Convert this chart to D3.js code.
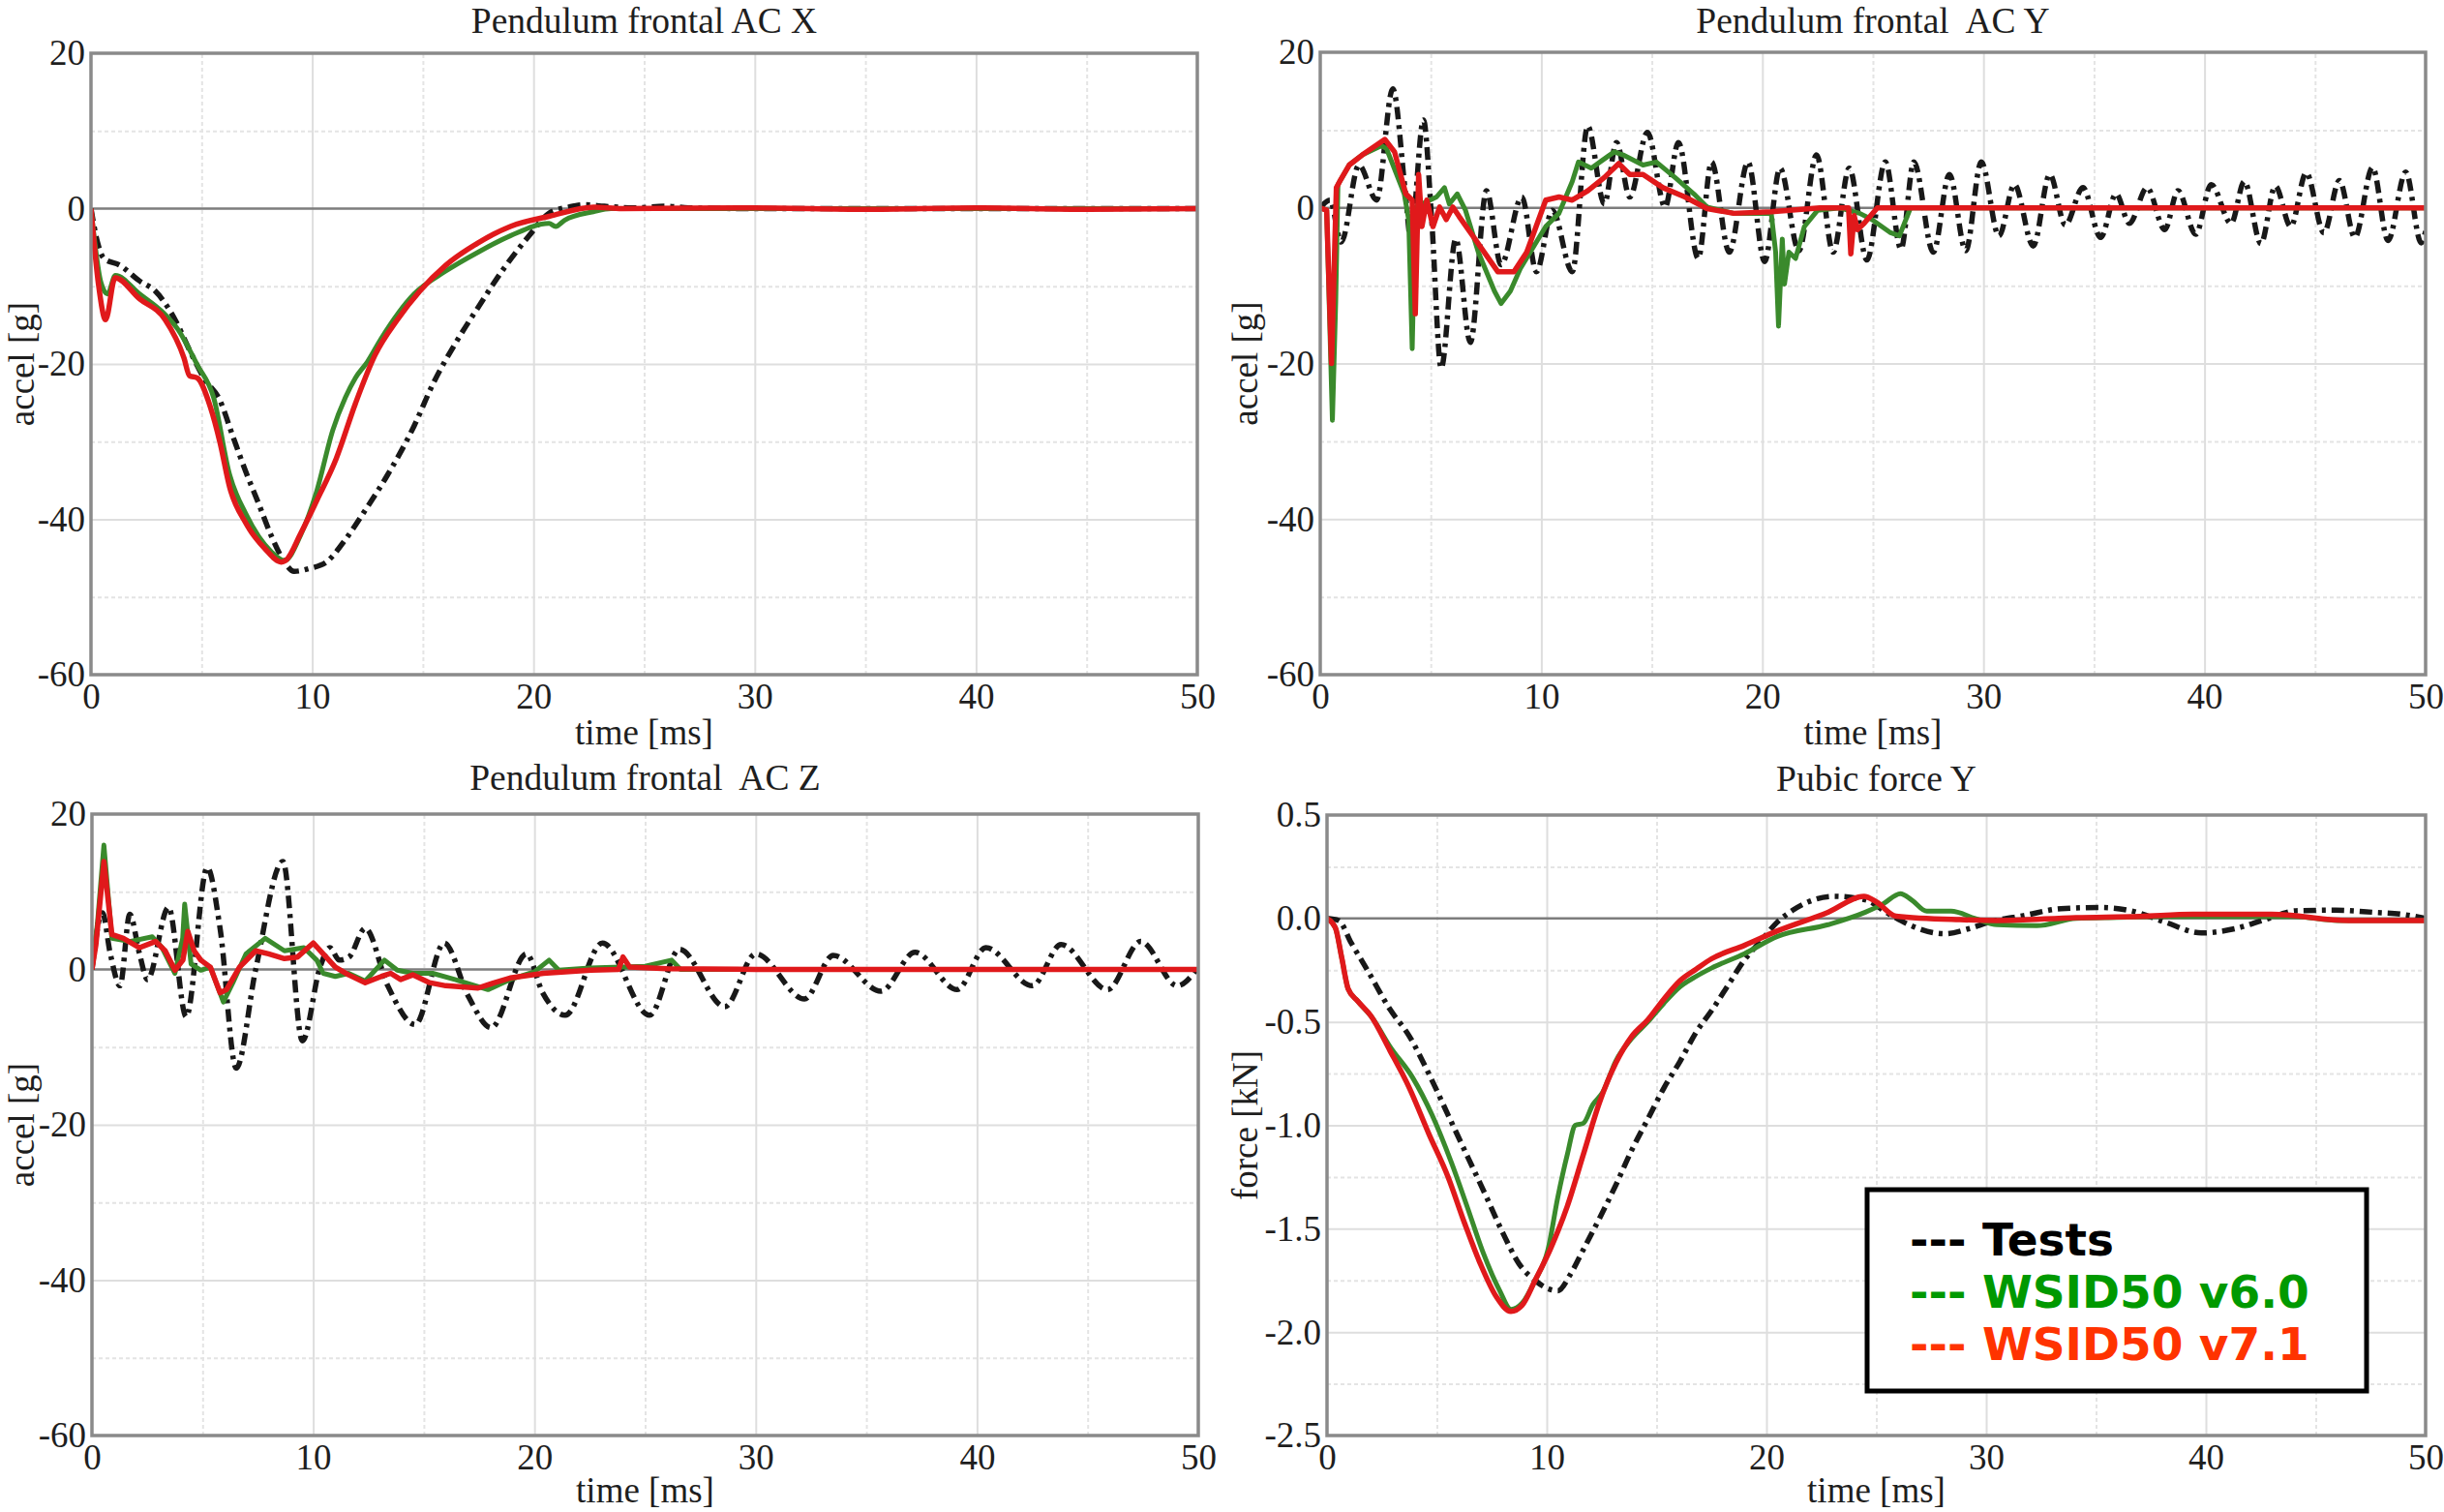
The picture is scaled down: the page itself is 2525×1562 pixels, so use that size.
<!DOCTYPE html>
<html><head><meta charset="utf-8">
<script src="https://cdn.jsdelivr.net/npm/d3@7"></script>
<style>html,body{margin:0;padding:0;background:#fff;}svg{display:block;}</style>
</head><body><svg id="c" width="2525" height="1562"></svg>
<script>
// ---------- tick labels / categories ----------
const xTicks = [0, 10, 20, 30, 40, 50];
const xMinor = [5, 15, 25, 35, 45];
const accelTicks = [20, 0, -20, -40, -60];
const accelMinor = [10, -10, -30, -50];
const forceTicks = [0.5, 0.0, -0.5, -1.0, -1.5, -2.0, -2.5];
const forceMinor = [0.25, -0.25, -0.75, -1.25, -1.75, -2.25];
const titles = ["Pendulum frontal AC X", "Pendulum frontal  AC Y", "Pendulum frontal  AC Z", "Pubic force Y"];
const yLabels = ["accel [g]", "accel [g]", "accel [g]", "force [kN]"];
const xLabel = "time [ms]";
const legendLabels = ["--- Tests", "--- WSID50 v6.0", "--- WSID50 v7.1"];

// ---------- series: [time ms, value] ----------
const acxTest = [[0,0],[0.3,-4.4],[0.58,-6.4],[1.31,-7.3],[2.19,-9.3],[2.9,-10.6],[3.8,-14.3],[4.5,-18.5],[5.1,-21.8],[5.83,-24.7],[6.41,-29.3],[7.0,-33.9],[7.58,-38],[8.16,-42.2],[8.75,-45.5],[9.18,-46.7],[9.91,-46.3],[10.64,-45.5],[11.5,-42.6],[12.4,-38.8],[13.4,-34.3],[14.6,-28],[15.45,-22.6],[16.5,-17.2],[17.5,-12.7],[18.66,-7.7],[19.8,-3.5],[20.7,-0.6],[21.6,0.2],[22.3,0.5],[23.2,0.3],[24.5,0.1],[26,0.3],[27,0.1],[30,0],[40,0],[50,0]];
const acxV60 = [[0,0],[0.45,-9.5],[0.75,-11],[1.1,-8.6],[2.2,-11],[3.3,-13.5],[3.94,-15.6],[4.8,-20.1],[5.54,-24.3],[6.27,-34.3],[7.0,-39.3],[8.16,-44.2],[8.75,-45.3],[9.48,-42],[10.2,-36.4],[10.93,-28.5],[11.5,-24.3],[11.95,-21.8],[12.5,-19.7],[13.1,-16.8],[14.6,-11],[16.0,-8.1],[17.5,-5.6],[18.95,-3.5],[20.7,-1.9],[21.0,-2.3],[21.4,-1.5],[22.7,-0.4],[23.5,0],[30,0],[40,0],[50,0]];
const acxV71 = [[0,0],[0.35,-10],[0.66,-14.3],[1.09,-8.9],[2.19,-11.6],[3.35,-14.3],[4.2,-19.2],[4.45,-21.5],[4.8,-21.8],[5.39,-25.5],[5.83,-30.1],[6.27,-35.9],[7.0,-40.5],[7.87,-43.8],[8.6,-45.5],[8.8,-45.3],[9.48,-41.8],[10.2,-37.6],[11.08,-32.2],[11.95,-25.1],[12.83,-18.9],[13.85,-14.3],[14.87,-10.6],[16.03,-7.3],[17.5,-4.4],[18.95,-2.3],[20.7,-1.0],[22.74,0.2],[24,0],[30,0.1],[35,-0.1],[40,0.1],[45,-0.1],[50,0]];

const acyTest = [[0,0],[0.44,1],[0.95,-4.4],[1.75,5.5],[2.55,1],[3.28,15.3],[3.85,2],[4.09,-4],[4.67,11.3],[5.04,-1.5],[5.47,-20.6],[6.13,-4],[6.79,-17.3],[7.52,2.2],[8.18,-7.3],[9.12,1.4],[9.78,-8.2],[10.5,-0.3],[11.4,-8.2],[12.1,10.5],[12.85,0.5],[13.4,8.4],[14.0,1.4],[14.8,9.7],[15.6,0.1],[16.2,8.4],[17.1,-6.5],[17.7,5.9],[18.5,-5.7],[19.35,5.9],[20.1,-6.9],[20.8,5.1],[21.65,-5.5],[22.45,6.8],[23.2,-5.7],[23.93,5.1],[24.73,-6.7],[25.56,5.9],[26.27,-5.3],[26.85,5.9],[27.73,-5.7],[28.46,4.3],[29.2,-5.5],[29.9,5.9],[30.7,-3.6],[31.4,3.0],[32.25,-4.9],[33.0,4.3],[33.7,-2.2],[34.5,2.6],[35.3,-3.8],[36.0,1.8],[36.6,-2],[37.4,2.6],[38.2,-2.8],[38.8,2.2],[39.6,-3.4],[40.3,3.0],[41.2,-2],[41.8,3.4],[42.55,-4.6],[43.2,2.8],[43.9,-2.4],[44.6,4.5],[45.4,-3.2],[46.1,3.5],[46.8,-3.8],[47.6,5.2],[48.3,-4.2],[49.1,4.6],[49.8,-4.5],[50,-3]];
const acyV60 = [[0,0],[0.29,-0.3],[0.55,-27.3],[0.7,-12],[0.8,3],[1.31,5.5],[1.9,6.8],[2.77,8.0],[3.0,7.6],[3.8,1.8],[4.0,-1.5],[4.16,-18.1],[4.3,0.1],[4.96,1],[5.26,1.4],[5.62,2.6],[5.84,0.5],[6.2,1.8],[6.57,-0.3],[7.15,-5.7],[7.88,-10.7],[8.18,-12.3],[8.6,-10.7],[9.05,-7.8],[10.2,-2.4],[10.8,-0.7],[11.4,3.4],[11.68,5.9],[12.26,5.1],[12.85,6.3],[13.3,7.2],[13.7,6.8],[14.6,5.5],[15.2,5.9],[16.05,3.9],[16.9,1.8],[17.5,0.1],[18.7,-0.7],[20.4,-0.7],[20.6,-5.7],[20.73,-15.2],[20.9,-4],[21.0,-9.8],[21.2,-5.7],[21.5,-6.5],[21.9,-2.4],[22.5,-0.3],[23.5,0],[24.4,-0.7],[24.95,-1.5],[25.8,-3.2],[26.2,-3.6],[26.7,0],[30,0],[50,0]];
const acyV71 = [[0,0],[0.29,-0.3],[0.51,-20],[0.73,2.6],[0.88,3.4],[1.31,5.5],[1.9,6.8],[2.92,8.8],[3.36,7.2],[3.87,1.8],[4.16,1],[4.3,-13.6],[4.45,4.3],[4.6,-2.4],[4.82,1],[5.1,-2.4],[5.4,0.1],[5.7,-1.5],[6.0,0.1],[6.28,-1.1],[7.0,-4],[8.03,-8.2],[8.76,-8.2],[9.34,-5.7],[10.2,1],[10.8,1.4],[11.4,1],[12.1,2.2],[12.85,3.9],[13.5,5.7],[14.0,4.3],[14.6,4.3],[15.5,2.6],[16.5,1.4],[17.5,-0.1],[18.7,-0.7],[20.4,-0.5],[22.6,0],[23.9,0],[24.0,-5.9],[24.15,-1],[24.3,-2.8],[24.6,-2],[25.2,0],[30,0],[50,0]];

const aczTest = [[0,0],[0.47,7.3],[0.83,2.0],[1.27,-2.1],[1.71,7.1],[2.15,2],[2.51,-1.3],[3.46,8.0],[4.26,-6.1],[5.21,13.1],[5.79,5.3],[6.52,-12.7],[7.4,0],[8.63,13.9],[9.51,-9.2],[10.31,0.3],[10.75,2.8],[11.18,1.2],[11.62,1.6],[12.35,5.3],[13.37,-2.1],[14.61,-7.1],[15.92,3.4],[17.0,-3.4],[18.04,-7.5],[19.64,2.0],[20.37,-3],[21.39,-5.9],[23.07,3.4],[25.2,-5.9],[26.55,2.6],[28.6,-4.8],[30.0,2.0],[32.2,-3.8],[33.5,1.8],[35.66,-2.8],[37.2,2.2],[39.1,-2.6],[40.4,2.8],[42.5,-2.1],[43.8,3.2],[45.9,-2.6],[47.4,3.6],[49.05,-2.1],[50,0.3]];
const aczV60 = [[0,0],[0.25,6],[0.54,16],[0.9,4],[1.71,3.6],[2.73,4.2],[3.17,2.8],[3.75,-0.5],[4.1,4],[4.19,8.4],[4.48,0.7],[4.92,-0.1],[5.35,0.3],[5.94,-4.2],[6.37,-1.7],[6.96,2],[7.83,4],[8.7,2.4],[9.58,2.8],[10.16,1.2],[10.45,-0.5],[11.0,-0.9],[11.6,-0.5],[12.35,-1.5],[13.22,1.2],[13.8,-0.1],[14.5,-0.5],[15.4,-0.5],[16.4,-1.3],[17.9,-2.6],[18.9,-1.3],[20.0,-0.3],[20.66,1.2],[21.1,-0.1],[22.5,0.2],[25,0.4],[26.2,1.2],[26.6,0],[30,0],[50,0]];
const aczV71 = [[0,0],[0.18,3.2],[0.54,13.9],[0.9,4.5],[1.42,4],[2.15,2.8],[2.87,3.6],[3.31,2.4],[3.75,-0.1],[4.11,1.2],[4.33,4.9],[4.62,2.4],[4.92,1.2],[5.35,0.3],[5.79,-3],[6.08,-2.6],[6.67,0.3],[7.4,2.4],[7.98,2],[8.7,1.4],[9.29,1.6],[10.0,3.4],[10.45,2],[11.0,0.3],[11.6,-0.7],[12.35,-1.7],[13.08,-0.9],[13.5,-0.5],[13.95,-1.3],[14.5,-0.7],[15.26,-1.7],[15.99,-2.1],[17.45,-2.4],[18.2,-1.7],[18.9,-1.1],[20.4,-0.5],[22.55,-0.1],[23.8,0],[24.0,1.6],[24.3,0.3],[26,0.1],[30,0],[50,0]];

const pubTest = [[0,0],[0.53,-0.01],[1.11,-0.12],[1.84,-0.25],[2.87,-0.44],[3.75,-0.57],[4.63,-0.75],[5.51,-0.95],[6.39,-1.15],[7.27,-1.35],[8.0,-1.52],[8.74,-1.67],[9.47,-1.75],[10.06,-1.79],[10.5,-1.80],[11.08,-1.72],[11.67,-1.60],[12.4,-1.45],[13.14,-1.29],[13.87,-1.12],[14.6,-0.97],[15.33,-0.82],[16.07,-0.69],[16.8,-0.55],[17.54,-0.44],[18.27,-0.32],[19.0,-0.20],[19.74,-0.11],[20.47,-0.02],[21.2,0.04],[21.9,0.08],[23.08,0.107],[24.5,0.09],[25.6,0.02],[26.7,-0.04],[28.1,-0.074],[29.2,-0.05],[30.2,-0.016],[31.7,0.014],[33.4,0.047],[35.2,0.053],[36.6,0.037],[38.1,-0.016],[39.8,-0.07],[41.3,-0.05],[42.7,-0.005],[44.1,0.037],[45.9,0.04],[47.6,0.03],[49,0.019],[50,0]];
const pubV60 = [[0,0],[0.38,-0.045],[0.67,-0.19],[0.96,-0.34],[1.4,-0.40],[2.06,-0.48],[2.87,-0.62],[3.9,-0.77],[4.78,-0.95],[5.66,-1.18],[6.4,-1.40],[7.12,-1.62],[7.86,-1.80],[8.37,-1.89],[8.88,-1.86],[9.47,-1.75],[10.06,-1.60],[10.5,-1.35],[10.94,-1.14],[11.3,-1.00],[11.67,-0.99],[12.1,-0.90],[12.55,-0.84],[13.14,-0.69],[13.87,-0.58],[14.6,-0.50],[15.33,-0.41],[16.07,-0.33],[16.8,-0.28],[17.5,-0.24],[19.0,-0.17],[20.5,-0.087],[22.8,-0.03],[24.5,0.03],[25.3,0.07],[26.1,0.12],[26.6,0.09],[27.3,0.035],[28.4,0.035],[29.5,0.0],[30.5,-0.03],[32.3,-0.035],[34.1,0.0],[36,0.005],[38,0.01],[40,0.01],[42,0.01],[44,0.01],[46,-0.01],[48,-0.01],[50,-0.01]];
const pubV71 = [[0,0],[0.38,-0.045],[0.67,-0.19],[0.96,-0.34],[1.4,-0.40],[1.99,-0.47],[2.87,-0.64],[3.75,-0.82],[4.63,-1.04],[5.51,-1.25],[6.25,-1.47],[6.98,-1.67],[7.71,-1.83],[8.37,-1.90],[8.88,-1.87],[9.47,-1.75],[10.2,-1.59],[10.94,-1.39],[11.67,-1.14],[12.4,-0.89],[13.14,-0.70],[13.87,-0.57],[14.6,-0.49],[15.33,-0.39],[16.07,-0.30],[16.8,-0.245],[17.5,-0.195],[19.0,-0.13],[20.5,-0.06],[22.8,0.03],[24.44,0.107],[25.0,0.08],[25.9,0.011],[28.8,-0.006],[30.5,-0.01],[34.1,0.004],[37,0.01],[39.4,0.02],[43,0.02],[46.5,-0.01],[50,-0.01]];

// ---------- drawing ----------
const COL = {test:"#181818", v60:"#3a8a2c", v71:"#e0191b"};
const legendColors = ["#000000", "#009900", "#ff3300"];
const svg = d3.select("#c");
const SERIF = "'Liberation Serif','Times New Roman',serif";

const panels = [
  {x0:94,  x1:1237, y0:55,  y1:697,  dom:[-60,20],  ticks:accelTicks, minor:accelMinor, fmt:d=>String(d), data:[acxTest,acxV60,acxV71], titleY:34,  xlabY:769,  ylabX:35,   smooth:true},
  {x0:1364,x1:2506, y0:54,  y1:697,  dom:[-60,20],  ticks:accelTicks, minor:accelMinor, fmt:d=>String(d), data:[acyTest,acyV60,acyV71], titleY:34,  xlabY:769,  ylabX:1299, smooth:false},
  {x0:95,  x1:1238, y0:841, y1:1483, dom:[-60,20],  ticks:accelTicks, minor:accelMinor, fmt:d=>String(d), data:[aczTest,aczV60,aczV71], titleY:816, xlabY:1552, ylabX:35,   smooth:false},
  {x0:1371,x1:2506, y0:842, y1:1483, dom:[-2.5,0.5],ticks:forceTicks, minor:forceMinor, fmt:d=>d.toFixed(1), data:[pubTest,pubV60,pubV71], titleY:817, xlabY:1552, ylabX:1299, smooth:true}
];

panels.forEach((p, i) => {
  const g = svg.append("g");
  const xs = d3.scaleLinear().domain([0,50]).range([p.x0,p.x1]);
  const ys = d3.scaleLinear().domain(p.dom).range([p.y1,p.y0]);
  const w = p.x1-p.x0, h = p.y1-p.y0;

  // minor grid (dotted)
  g.append("g").attr("transform",`translate(0,${p.y1})`)
    .call(d3.axisBottom(xs).tickValues(xMinor).tickSize(-h).tickFormat(""))
    .call(a=>{a.select(".domain").remove(); a.selectAll("line").attr("stroke","#e4e4e4").attr("stroke-width",2).attr("stroke-dasharray","4,3");});
  g.append("g").attr("transform",`translate(${p.x0},0)`)
    .call(d3.axisLeft(ys).tickValues(p.minor).tickSize(-w).tickFormat(""))
    .call(a=>{a.select(".domain").remove(); a.selectAll("line").attr("stroke","#e4e4e4").attr("stroke-width",2).attr("stroke-dasharray","4,3");});
  // major grid
  g.append("g").attr("transform",`translate(0,${p.y1})`)
    .call(d3.axisBottom(xs).tickValues(xTicks.slice(1,-1)).tickSize(-h).tickFormat(""))
    .call(a=>{a.select(".domain").remove(); a.selectAll("line").attr("stroke","#dedede").attr("stroke-width",2);});
  g.append("g").attr("transform",`translate(${p.x0},0)`)
    .call(d3.axisLeft(ys).tickValues(p.ticks.filter(t=>t!==0 && t!==p.dom[0] && t!==p.dom[1])).tickSize(-w).tickFormat(""))
    .call(a=>{a.select(".domain").remove(); a.selectAll("line").attr("stroke","#dedede").attr("stroke-width",2);});
  // zero line
  g.append("line").attr("x1",p.x0).attr("x2",p.x1).attr("y1",ys(0)).attr("y2",ys(0))
    .attr("stroke","#7d7d7d").attr("stroke-width",2.5);

  // clip
  const cid = "clip"+i;
  svg.append("clipPath").attr("id",cid).append("rect")
    .attr("x",p.x0).attr("y",p.y0).attr("width",w).attr("height",h);
  const lg = g.append("g").attr("clip-path",`url(#${cid})`);
  const lineSmooth = d3.line().x(d=>xs(d[0])).y(d=>ys(d[1])).curve(d3.curveMonotoneX);
  const lineSharp = d3.line().x(d=>xs(d[0])).y(d=>ys(d[1]));
  lg.append("path").datum(p.data[0]).attr("d",lineSmooth)
    .attr("fill","none").attr("stroke",COL.test).attr("stroke-width",5.5)
    .attr("stroke-dasharray","13,6,4,6").attr("stroke-linejoin","round");
  const ml = p.smooth ? lineSmooth : lineSharp;
  lg.append("path").datum(p.data[1]).attr("d",ml)
    .attr("fill","none").attr("stroke",COL.v60).attr("stroke-width",5)
    .attr("stroke-linejoin","round");
  lg.append("path").datum(p.data[2]).attr("d",ml)
    .attr("fill","none").attr("stroke",COL.v71).attr("stroke-width",5.5)
    .attr("stroke-linejoin","round");

  // frame
  g.append("rect").attr("x",p.x0).attr("y",p.y0).attr("width",w).attr("height",h)
    .attr("fill","none").attr("stroke","#8a8a8a").attr("stroke-width",3.5);

  // tick labels
  g.append("g").attr("transform",`translate(${p.x0},0)`)
    .call(d3.axisLeft(ys).tickValues(p.ticks).tickSize(0).tickPadding(6).tickFormat(p.fmt))
    .call(a=>{a.select(".domain").remove();
      a.selectAll("text").attr("font-family",SERIF).attr("font-size",37).attr("fill","#1e1e1e");});
  g.append("g").attr("transform",`translate(0,${p.y1})`)
    .call(d3.axisBottom(xs).tickValues(xTicks).tickSize(0).tickPadding(9).tickFormat(d=>String(d)))
    .call(a=>{a.select(".domain").remove();
      a.selectAll("text").attr("font-family",SERIF).attr("font-size",37).attr("fill","#1e1e1e");});

  // title
  g.append("text").attr("x",(p.x0+p.x1)/2).attr("y",p.titleY).attr("text-anchor","middle")
    .attr("font-family",SERIF).attr("font-size",37.5).attr("fill","#1e1e1e")
    .attr("xml:space","preserve").style("white-space","pre").text(titles[i]);
  // x label
  g.append("text").attr("x",(p.x0+p.x1)/2).attr("y",p.xlabY).attr("text-anchor","middle")
    .attr("font-family",SERIF).attr("font-size",37).attr("fill","#1e1e1e").text(xLabel);
  // y label
  g.append("text").attr("transform",`translate(${p.ylabX},${(p.y0+p.y1)/2}) rotate(-90)`)
    .attr("text-anchor","middle").attr("font-family",SERIF).attr("font-size",37)
    .attr("fill","#1e1e1e").text(yLabels[i]);
});

// legend
const lgd = svg.append("g");
lgd.append("rect").attr("x",1929).attr("y",1229).attr("width",516).attr("height",208)
  .attr("fill","#fff").attr("stroke","#000").attr("stroke-width",5);
const ly = d3.scalePoint().domain(legendLabels).range([1297,1405]);
lgd.selectAll("text.l").data(legendLabels).join("text").attr("class","l")
  .attr("x",1973).attr("y",d=>ly(d))
  .attr("font-family","'DejaVu Sans',Verdana,sans-serif").attr("font-weight","bold")
  .attr("font-size",47).attr("fill",(d,i)=>legendColors[i]).text(d=>d);
</script></body></html>
